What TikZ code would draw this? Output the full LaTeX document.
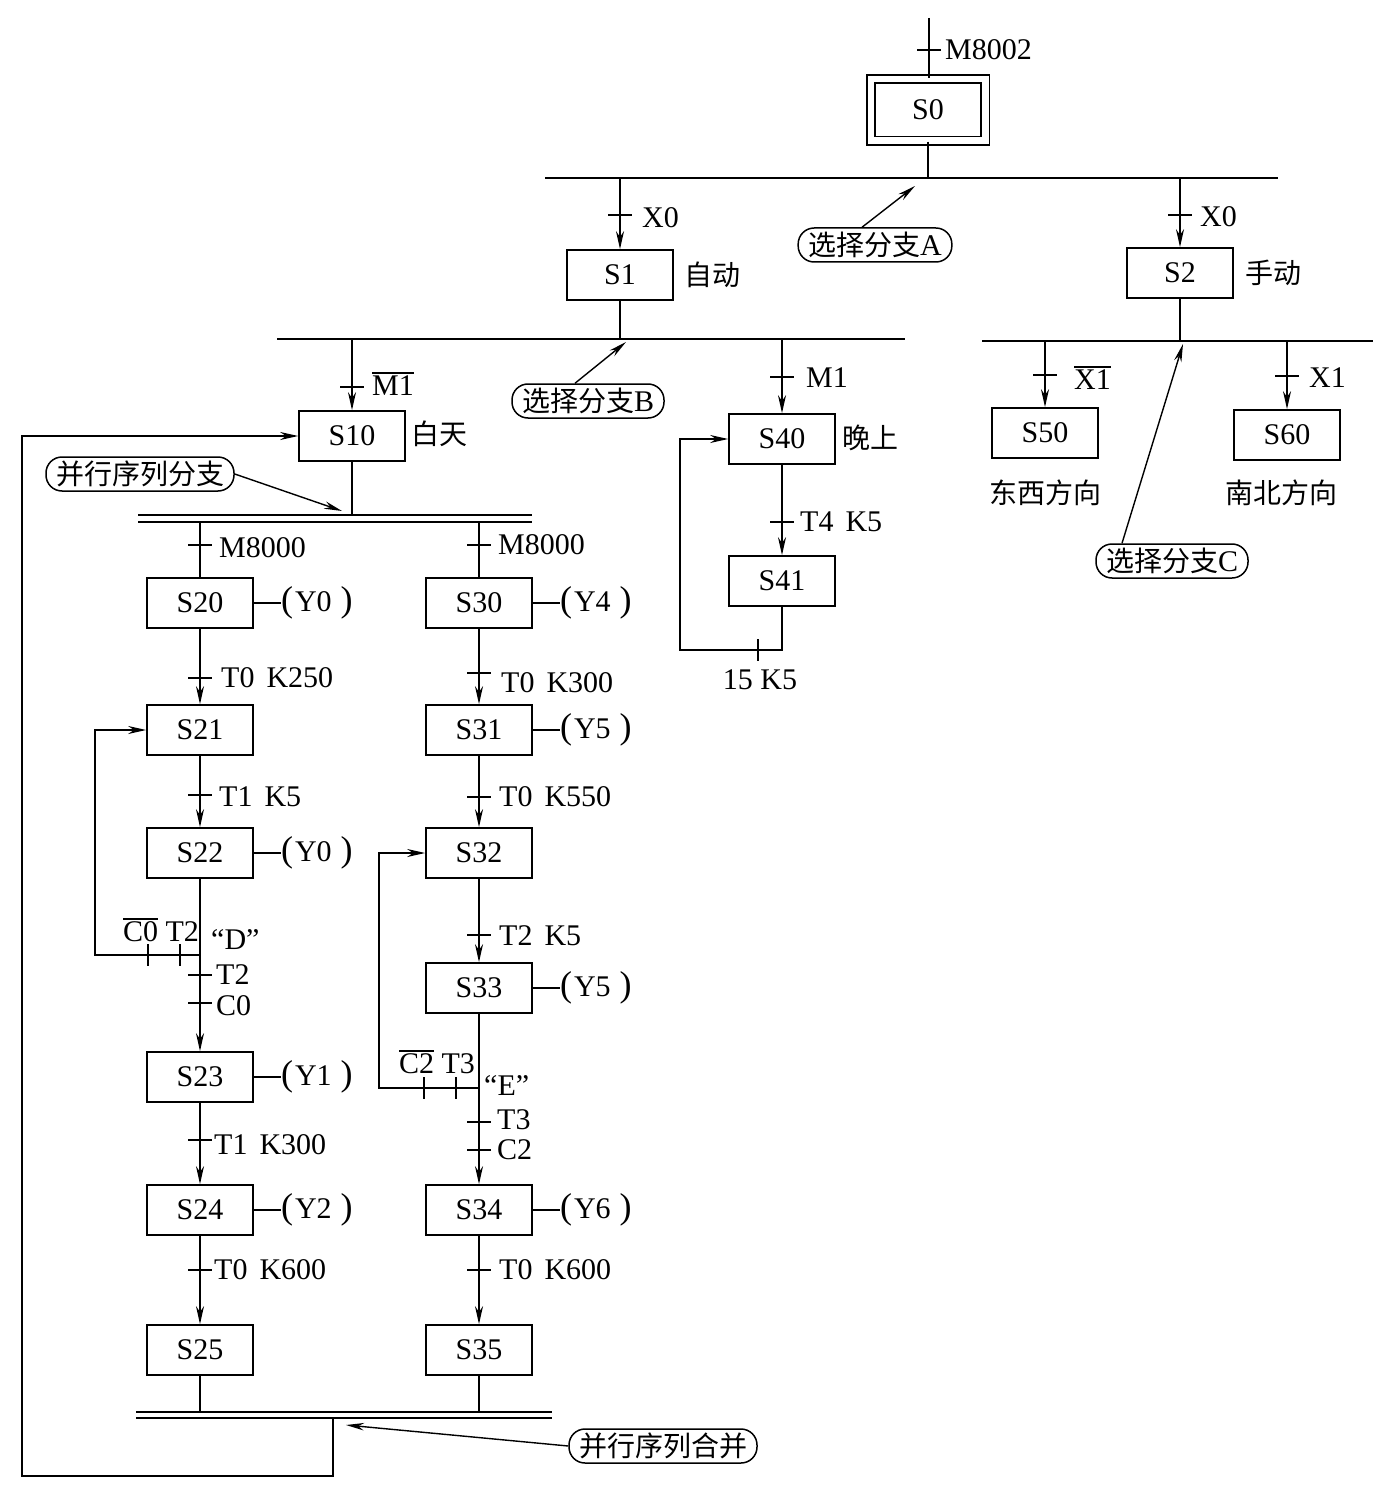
\documentclass[tikz,border=0pt]{standalone}
\usepackage{fontspec}
\setmainfont{Liberation Serif}
\newfontfamily\cjk{Noto Sans CJK SC}
\usetikzlibrary{arrows.meta,calc}
\newcommand{\ovl}[1]{\leavevmode\vbox{\hrule height 1.3pt\kern 2pt\hbox{#1}}}
\newcommand{\outp}[1]{{\fontsize{36}{36}\selectfont(}\hspace{2pt}#1\hspace{9pt}{\fontsize{36}{36}\selectfont)}}
\begin{document}
\begin{tikzpicture}[x=1pt,y=-1pt,
  lat/.style={font=\fontsize{30}{33}\selectfont, inner sep=0pt},
  cj/.style={font=\fontsize{28}{31}\selectfont\cjk, inner sep=0pt},
  stepbox/.style={draw, line width=1.7pt, minimum width=106pt, minimum height=50pt, inner sep=0pt, font=\fontsize{30}{33}\selectfont},
  outbox/.style={font=\fontsize{30}{33}\selectfont, inner sep=0pt, anchor=west},
  annot/.style={draw, line width=1.5pt, rounded corners=16pt, minimum height=34pt, inner xsep=10pt, inner ysep=2pt, font=\fontsize{30}{33}\selectfont},
  wire/.style={line width=1.6pt},
  bar/.style={line width=1.4pt},
  arr/.style={line width=1.6pt, -{Stealth[length=18pt,width=8pt]}},
  ann/.style={line width=1.4pt, -{Stealth[length=18pt,width=7.5pt]}},
  tk/.style={line width=1.5pt}
]
\fill[white] (0,0) rectangle (1373,1487);
\useasboundingbox (0,0) rectangle (1373,1487);
\newcommand{\tickh}[2]{\draw[tk] (#1-12,#2) -- (#1+12,#2);}
\newcommand{\tickv}[2]{\draw[tk] (#1,#2-11) -- (#1,#2+11);}

% ---------- top ----------
\coordinate (top) at (929,18);
\node[stepbox, double, double distance=6.5pt, minimum width=114.5pt, minimum height=61.5pt] (S0) at (928,110) {S0};
\draw[wire] (top) -- (top |- S0.north);
\tickh{929}{50}
\node[lat, anchor=west] (lM8002) at (945,50) {M8002};

% selective branch A
\coordinate (barAL) at (545,178);
\coordinate (barAR) at (1278,178);
\draw[bar] (barAL) -- (barAR);
\draw[wire] (S0.south) -- (S0.south |- barAL);

\node[stepbox] (S1) at (620,275) {S1};
\node[stepbox] (S2) at (1180,273) {S2};
\draw[arr] (S1.north |- barAL) -- (S1.north);
\draw[arr] (S2.north |- barAL) -- (S2.north);
\tickh{620}{215}
\tickh{1180}{215}
\node[lat, anchor=west] (lX0a) at (642,218) {X0};
\node[lat, anchor=west] (lX0b) at (1200,217) {X0};
\node[cj, anchor=west] (lauto) at (684,275) {自动};
\node[cj, anchor=west] (lman) at (1245,273) {手动};

\node[annot] (annA) at (875,245) {{\cjk\fontsize{28}{31}\selectfont 选择分支}A};
\coordinate (pA) at (915,186);
\draw[ann] ([xshift=-13pt]annA.north) -- (pA);

% selective branch B
\coordinate (barBL) at (277,339);
\coordinate (barBR) at (905,339);
\draw[bar] (barBL) -- (barBR);
\draw[wire] (S1.south) -- (S1.south |- barBL);

\node[stepbox] (S10) at (352,436) {S10};
\node[stepbox] (S40) at (782,439) {S40};
\draw[arr] (S10.north |- barBL) -- (S10.north);
\draw[arr] (S40.north |- barBL) -- (S40.north);
\tickh{352}{387}
\tickh{782}{377}
\node[lat, anchor=west] (lM1n) at (372,384) {\ovl{M1}};
\node[lat, anchor=west] (lM1) at (806,378) {M1};
\node[cj, anchor=west] (lday) at (411,434) {白天};
\node[cj, anchor=west] (lnight) at (842,438) {晚上};

\node[annot] (annB) at (588,401) {{\cjk\fontsize{28}{31}\selectfont 选择分支}B};
\coordinate (pB) at (626,342);
\draw[ann] ([xshift=-13pt]annB.north) -- (pB);

% selective branch C
\coordinate (barCL) at (982,341);
\coordinate (barCR) at (1373,341);
\draw[bar] (barCL) -- (barCR);
\draw[wire] (S2.south) -- (S2.south |- barCL);

\node[stepbox] (S50) at (1045,433) {S50};
\node[stepbox] (S60) at (1287,435) {S60};
\draw[arr] (S50.north |- barCL) -- (S50.north);
\draw[arr] (S60.north |- barCL) -- (S60.north);
\tickh{1045}{375}
\tickh{1287}{376}
\node[lat, anchor=west] (lX1n) at (1074,378) {\ovl{X1}};
\node[lat, anchor=west] (lX1) at (1309,378) {X1};
\node[cj] (lew) at (1045,493) {东西方向};
\node[cj] (lns) at (1281,493) {南北方向};

\node[annot] (annC) at (1172,561) {{\cjk\fontsize{28}{31}\selectfont 选择分支}C};
\coordinate (pC) at (1183,344);
\draw[ann] ([xshift=-50pt]annC.north) -- (pC);

% night sequence
\node[stepbox] (S41) at (782,581) {S41};
\draw[arr] (S40.south) -- (S41.north);
\tickh{782}{522}
\node[lat, anchor=west] (lT4) at (800,522) {T4\hspace{12pt}K5};
\coordinate (n1) at (782,650);
\coordinate (n2) at (680,650);
\draw[arr] (S41.south) -- (n1) -- (n2) -- (n2 |- S40.west) -- (S40.west);
\tickv{758}{650}
\node[lat] (l15) at (760,680) {15 K5};

% ---------- parallel branch ----------
\coordinate (pbL) at (138,515);
\coordinate (pbR) at (532,515);
\draw[bar] (pbL) -- (pbR);
\draw[bar] (138,522) -- (532,522);
\coordinate (pbL2) at (138,522);
\draw[wire] (S10.south) -- (S10.south |- pbL);

\node[annot] (annP) at (140,474) {{\cjk\fontsize{28}{31}\selectfont 并行序列分支}};
\coordinate (pP) at (342,511);
\draw[ann] (annP.east) -- (pP);

% left column
\node[stepbox] (S20) at (200,603) {S20};
\node[stepbox] (S21) at (200,730) {S21};
\node[stepbox] (S22) at (200,853) {S22};
\node[stepbox] (S23) at (200,1077) {S23};
\node[stepbox] (S24) at (200,1210) {S24};
\node[stepbox] (S25) at (200,1350) {S25};
% right column
\node[stepbox] (S30) at (479,603) {S30};
\node[stepbox] (S31) at (479,730) {S31};
\node[stepbox] (S32) at (479,853) {S32};
\node[stepbox] (S33) at (479,988) {S33};
\node[stepbox] (S34) at (479,1210) {S34};
\node[stepbox] (S35) at (479,1350) {S35};

% outputs
\foreach \s/\y/\n in {S20/Y0/o20, S22/Y0/o22, S23/Y1/o23, S24/Y2/o24, S30/Y4/o30, S31/Y5/o31, S33/Y5/o33, S34/Y6/o34}{
  \node[outbox] (\n) at ([xshift=27pt]\s.east) {\outp{\y}};
  \draw[bar] (\s.east) -- (\n.west);
}

% left column connectors
\draw[wire] (S20.north |- pbL2) -- (S20.north);
\tickh{200}{545}
\node[lat, anchor=west] (lM8000a) at (219,548) {M8000};
\draw[arr] (S20.south) -- (S21.north);
\tickh{200}{678}
\node[lat, anchor=west] (lT0a) at (221,678) {T0\hspace{12pt}K250};
\draw[arr] (S21.south) -- (S22.north);
\tickh{200}{795}
\node[lat, anchor=west] (lT1a) at (219,797) {T1\hspace{12pt}K5};
\draw[arr] (S22.south) -- (S23.north);
\coordinate (d1) at (200,955);
\coordinate (d2) at (95,955);
\draw[arr] (d1) -- (d2) -- (d2 |- S21.west) -- (S21.west);
\tickv{148}{955}
\tickv{180}{955}
\node[lat] (lC0T2) at (161,930) {\ovl{C0} T2};
\node[lat, anchor=west] (lD) at (211,940) {“D”};
\tickh{200}{975}
\tickh{200}{1003}
\node[lat, anchor=west] (lT2a) at (216,975) {T2};
\node[lat, anchor=west] (lC0) at (216,1006) {C0};
\draw[arr] (S23.south) -- (S24.north);
\tickh{200}{1140}
\node[lat, anchor=west] (lT1b) at (214,1145) {T1\hspace{12pt}K300};
\draw[arr] (S24.south) -- (S25.north);
\tickh{200}{1270}
\node[lat, anchor=west] (lT0b) at (214,1270) {T0\hspace{12pt}K600};

% right column connectors
\draw[wire] (S30.north |- pbL2) -- (S30.north);
\tickh{479}{545}
\node[lat, anchor=west] (lM8000b) at (498,545) {M8000};
\draw[arr] (S30.south) -- (S31.north);
\tickh{479}{673}
\node[lat, anchor=west] (lT0c) at (501,683) {T0\hspace{12pt}K300};
\draw[arr] (S31.south) -- (S32.north);
\tickh{479}{797}
\node[lat, anchor=west] (lT0d) at (499,797) {T0\hspace{12pt}K550};
\draw[arr] (S32.south) -- (S33.north);
\tickh{479}{935}
\node[lat, anchor=west] (lT2b) at (499,936) {T2\hspace{12pt}K5};
\draw[arr] (S33.south) -- (S34.north);
\coordinate (e1) at (479,1088);
\coordinate (e2) at (379,1088);
\draw[arr] (e1) -- (e2) -- (e2 |- S32.west) -- (S32.west);
\tickv{424}{1088}
\tickv{456}{1088}
\node[lat] (lC2T3) at (437,1062) {\ovl{C2} T3};
\node[lat, anchor=west] (lE) at (484,1085) {“E”};
\tickh{479}{1122}
\tickh{479}{1150}
\node[lat, anchor=west] (lT3) at (497,1120) {T3};
\node[lat, anchor=west] (lC2) at (497,1150) {C2};
\draw[arr] (S34.south) -- (S35.north);
\tickh{479}{1270}
\node[lat, anchor=west] (lT0e) at (499,1270) {T0\hspace{12pt}K600};

% ---------- parallel merge ----------
\coordinate (mbL) at (136,1412);
\coordinate (mbR) at (552,1412);
\draw[bar] (mbL) -- (mbR);
\draw[bar] (136,1418) -- (552,1418);
\draw[wire] (S25.south) -- (S25.south |- mbL);
\draw[wire] (S35.south) -- (S35.south |- mbL);

\coordinate (m1) at (333,1418);
\coordinate (m2) at (333,1476);
\coordinate (m3) at (22,1476);
\draw[arr] (m1) -- (m2) -- (m3) -- (m3 |- S10.west) -- (S10.west);

\node[annot] (annM) at (663,1446) {{\cjk\fontsize{28}{31}\selectfont 并行序列合并}};
\coordinate (pM) at (346,1425);
\draw[ann] (annM.west) -- (pM);
\end{tikzpicture}
\end{document}
